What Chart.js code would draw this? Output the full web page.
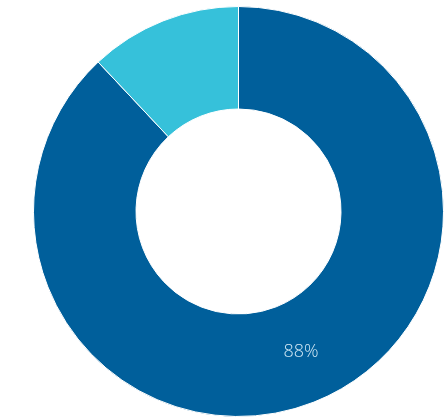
<!DOCTYPE html>
<html>
<head>
<meta charset="utf-8">
<script src="https://cdn.jsdelivr.net/npm/chart.js@4"></script>
<style>
  html, body { margin: 0; padding: 0; background: #ffffff; }
  #wrap { width: 448px; height: 417px; }
</style>
</head>
<body>
<div id="wrap"><canvas id="chart-donut" width="448" height="417"></canvas></div>
<script>
// dati del grafico
const categorie = ['Sì', 'No'];
const valori = [88, 12];
const colori = ['#005f9b', '#36c1da'];
const etichette = ['88%', ''];

// plugin per scrivere la percentuale dentro lo spicchio
const pluginEtichette = {
    id: 'etichette',
    afterDatasetsDraw(chart) {
        const ctx = chart.ctx;
        const meta = chart.getDatasetMeta(0);
        ctx.save();
        ctx.font = '300 18px "Open Sans", Lato, sans-serif';
        ctx.fillStyle = '#cfe7f4';
        ctx.textAlign = 'center';
        ctx.textBaseline = 'middle';
        meta.data.forEach((arc, i) => {
            if (!etichette[i]) return;
            const p = arc.tooltipPosition();
            ctx.fillText(etichette[i], p.x + 6, p.y - 3);
        });
        ctx.restore();
    }
};

new Chart(document.getElementById('chart-donut'), {
    type: 'doughnut',
    data: {
        labels: categorie,
        datasets: [{
            data: valori,
            backgroundColor: colori,
            borderColor: '#ffffff',
            borderWidth: 1
        }]
    },
    options: {
        responsive: false,
        animation: false,
        cutout: '50%',
        layout: { padding: { left: 33, right: 4, top: 6, bottom: 0 } },
        plugins: {
            legend: { display: false },
            tooltip: { enabled: false }
        }
    },
    plugins: [pluginEtichette]
});
</script>
</body>
</html>
